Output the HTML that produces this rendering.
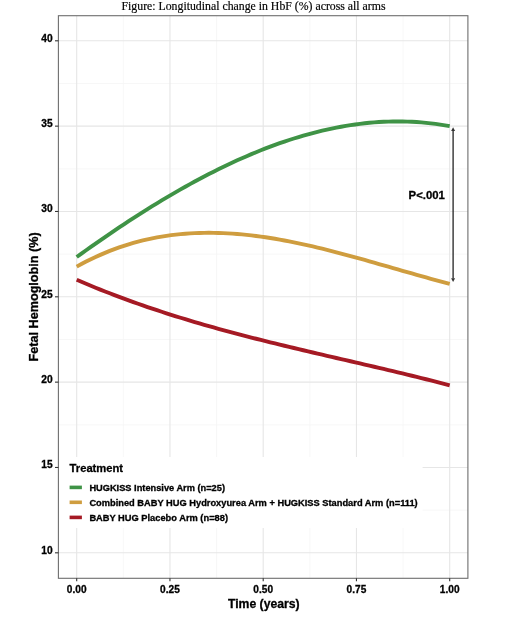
<!DOCTYPE html>
<html><head><meta charset="utf-8"><style>
html,body{margin:0;padding:0;background:#fff;}
body{width:520px;height:626px;overflow:hidden;font-family:"Liberation Sans",sans-serif;}
svg{display:block;will-change:transform;}
text{stroke:#000;stroke-width:0.3px;paint-order:stroke;}
</style></head><body>
<svg width="520" height="626" viewBox="0 0 520 626">
<rect width="520" height="626" fill="#fff"/>
<line x1="123.33" y1="15.7" x2="123.33" y2="578.3" stroke="#f5f5f5" stroke-width="0.8"/>
<line x1="216.57" y1="15.7" x2="216.57" y2="578.3" stroke="#f5f5f5" stroke-width="0.8"/>
<line x1="309.82" y1="15.7" x2="309.82" y2="578.3" stroke="#f5f5f5" stroke-width="0.8"/>
<line x1="403.07" y1="15.7" x2="403.07" y2="578.3" stroke="#f5f5f5" stroke-width="0.8"/>
<line x1="58.4" y1="510.14" x2="467.9" y2="510.14" stroke="#f5f5f5" stroke-width="0.8"/>
<line x1="58.4" y1="424.81" x2="467.9" y2="424.81" stroke="#f5f5f5" stroke-width="0.8"/>
<line x1="58.4" y1="339.47" x2="467.9" y2="339.47" stroke="#f5f5f5" stroke-width="0.8"/>
<line x1="58.4" y1="254.14" x2="467.9" y2="254.14" stroke="#f5f5f5" stroke-width="0.8"/>
<line x1="58.4" y1="168.80" x2="467.9" y2="168.80" stroke="#f5f5f5" stroke-width="0.8"/>
<line x1="58.4" y1="83.47" x2="467.9" y2="83.47" stroke="#f5f5f5" stroke-width="0.8"/>
<line x1="76.70" y1="15.7" x2="76.70" y2="578.3" stroke="#e6e6e6" stroke-width="1.1"/>
<line x1="169.95" y1="15.7" x2="169.95" y2="578.3" stroke="#e6e6e6" stroke-width="1.1"/>
<line x1="263.20" y1="15.7" x2="263.20" y2="578.3" stroke="#e6e6e6" stroke-width="1.1"/>
<line x1="356.45" y1="15.7" x2="356.45" y2="578.3" stroke="#e6e6e6" stroke-width="1.1"/>
<line x1="449.70" y1="15.7" x2="449.70" y2="578.3" stroke="#e6e6e6" stroke-width="1.1"/>
<line x1="58.4" y1="552.81" x2="467.9" y2="552.81" stroke="#e6e6e6" stroke-width="1.1"/>
<line x1="58.4" y1="467.48" x2="467.9" y2="467.48" stroke="#e6e6e6" stroke-width="1.1"/>
<line x1="58.4" y1="382.14" x2="467.9" y2="382.14" stroke="#e6e6e6" stroke-width="1.1"/>
<line x1="58.4" y1="296.81" x2="467.9" y2="296.81" stroke="#e6e6e6" stroke-width="1.1"/>
<line x1="58.4" y1="211.47" x2="467.9" y2="211.47" stroke="#e6e6e6" stroke-width="1.1"/>
<line x1="58.4" y1="126.14" x2="467.9" y2="126.14" stroke="#e6e6e6" stroke-width="1.1"/>
<line x1="58.4" y1="40.80" x2="467.9" y2="40.80" stroke="#e6e6e6" stroke-width="1.1"/>
<path d="M76.70,279.73 L81.42,281.76 L86.14,283.77 L90.86,285.74 L95.59,287.68 L100.31,289.58 L105.03,291.46 L109.75,293.30 L114.47,295.12 L119.19,296.90 L123.92,298.66 L128.64,300.39 L133.36,302.10 L138.08,303.77 L142.80,305.42 L147.52,307.05 L152.24,308.65 L156.97,310.22 L161.69,311.77 L166.41,313.30 L171.13,314.81 L175.85,316.29 L180.57,317.76 L185.29,319.20 L190.02,320.62 L194.74,322.02 L199.46,323.41 L204.18,324.77 L208.90,326.12 L213.62,327.45 L218.35,328.76 L223.07,330.06 L227.79,331.34 L232.51,332.61 L237.23,333.87 L241.95,335.11 L246.67,336.33 L251.40,337.55 L256.12,338.75 L260.84,339.94 L265.56,341.12 L270.28,342.29 L275.00,343.46 L279.73,344.61 L284.45,345.75 L289.17,346.89 L293.89,348.02 L298.61,349.15 L303.33,350.26 L308.05,351.38 L312.78,352.48 L317.50,353.59 L322.22,354.69 L326.94,355.79 L331.66,356.88 L336.38,357.98 L341.11,359.07 L345.83,360.16 L350.55,361.25 L355.27,362.35 L359.99,363.44 L364.71,364.54 L369.43,365.64 L374.16,366.74 L378.88,367.85 L383.60,368.96 L388.32,370.07 L393.04,371.19 L397.76,372.32 L402.48,373.46 L407.21,374.60 L411.93,375.75 L416.65,376.90 L421.37,378.07 L426.09,379.25 L430.81,380.43 L435.54,381.63 L440.26,382.84 L444.98,384.06 L449.70,385.29" fill="none" stroke="#a51a24" stroke-width="3.9" stroke-linecap="butt" stroke-linejoin="round"/>
<path d="M76.70,266.65 L81.42,264.06 L86.14,261.58 L90.86,259.23 L95.59,256.99 L100.31,254.86 L105.03,252.84 L109.75,250.93 L114.47,249.12 L119.19,247.43 L123.92,245.83 L128.64,244.34 L133.36,242.95 L138.08,241.65 L142.80,240.46 L147.52,239.35 L152.24,238.34 L156.97,237.42 L161.69,236.59 L166.41,235.85 L171.13,235.19 L175.85,234.62 L180.57,234.12 L185.29,233.71 L190.02,233.38 L194.74,233.13 L199.46,232.94 L204.18,232.84 L208.90,232.80 L213.62,232.83 L218.35,232.93 L223.07,233.10 L227.79,233.33 L232.51,233.63 L237.23,233.98 L241.95,234.39 L246.67,234.87 L251.40,235.39 L256.12,235.97 L260.84,236.60 L265.56,237.28 L270.28,238.01 L275.00,238.79 L279.73,239.61 L284.45,240.47 L289.17,241.38 L293.89,242.32 L298.61,243.30 L303.33,244.32 L308.05,245.37 L312.78,246.46 L317.50,247.57 L322.22,248.71 L326.94,249.88 L331.66,251.08 L336.38,252.29 L341.11,253.53 L345.83,254.79 L350.55,256.07 L355.27,257.36 L359.99,258.67 L364.71,259.99 L369.43,261.32 L374.16,262.66 L378.88,264.01 L383.60,265.36 L388.32,266.72 L393.04,268.07 L397.76,269.43 L402.48,270.79 L407.21,272.14 L411.93,273.49 L416.65,274.83 L421.37,276.16 L426.09,277.48 L430.81,278.79 L435.54,280.09 L440.26,281.36 L444.98,282.63 L449.70,283.87" fill="none" stroke="#cf9d3f" stroke-width="3.9" stroke-linecap="butt" stroke-linejoin="round"/>
<path d="M76.70,256.98 L81.42,253.59 L86.14,250.23 L90.86,246.89 L95.59,243.58 L100.31,240.30 L105.03,237.05 L109.75,233.82 L114.47,230.62 L119.19,227.46 L123.92,224.32 L128.64,221.22 L133.36,218.15 L138.08,215.11 L142.80,212.11 L147.52,209.14 L152.24,206.21 L156.97,203.31 L161.69,200.45 L166.41,197.63 L171.13,194.84 L175.85,192.10 L180.57,189.40 L185.29,186.73 L190.02,184.11 L194.74,181.53 L199.46,179.00 L204.18,176.50 L208.90,174.06 L213.62,171.65 L218.35,169.30 L223.07,166.99 L227.79,164.73 L232.51,162.51 L237.23,160.35 L241.95,158.23 L246.67,156.17 L251.40,154.16 L256.12,152.20 L260.84,150.29 L265.56,148.44 L270.28,146.64 L275.00,144.90 L279.73,143.21 L284.45,141.58 L289.17,140.01 L293.89,138.49 L298.61,137.04 L303.33,135.64 L308.05,134.31 L312.78,133.03 L317.50,131.82 L322.22,130.67 L326.94,129.59 L331.66,128.56 L336.38,127.61 L341.11,126.72 L345.83,125.90 L350.55,125.14 L355.27,124.45 L359.99,123.83 L364.71,123.28 L369.43,122.80 L374.16,122.40 L378.88,122.06 L383.60,121.80 L388.32,121.61 L393.04,121.49 L397.76,121.45 L402.48,121.49 L407.21,121.60 L411.93,121.79 L416.65,122.06 L421.37,122.40 L426.09,122.83 L430.81,123.33 L435.54,123.92 L440.26,124.59 L444.98,125.34 L449.70,126.17" fill="none" stroke="#3f9346" stroke-width="3.9" stroke-linecap="butt" stroke-linejoin="round"/>
<line x1="453.1" y1="130.5" x2="453.1" y2="278.5" stroke="#222" stroke-width="1.3"/>
<path d="M453.1,127.2 L455.1,131 L451.1,131 Z" fill="#333"/>
<path d="M453.1,282 L455.1,278.2 L451.1,278.2 Z" fill="#333"/>
<text x="408.6" y="198.8" font-family="Liberation Sans" font-weight="bold" font-size="11.3" textLength="36.2" lengthAdjust="spacingAndGlyphs" fill="#000">P&lt;.001</text>
<rect x="59.0" y="457" width="363.6" height="71" fill="#fff"/>
<text x="69.6" y="472.4" font-family="Liberation Sans" font-weight="bold" font-size="11.2" fill="#000">Treatment</text>
<line x1="69.6" y1="487.4" x2="81.9" y2="487.4" stroke="#3f9346" stroke-width="3.6"/>
<text x="89.4" y="490.7" font-family="Liberation Sans" font-weight="bold" font-size="9.2" textLength="135.6" lengthAdjust="spacingAndGlyphs" fill="#000">HUGKISS Intensive Arm (n=25)</text>
<line x1="69.6" y1="502.3" x2="81.9" y2="502.3" stroke="#cf9d3f" stroke-width="3.6"/>
<text x="89.4" y="505.6" font-family="Liberation Sans" font-weight="bold" font-size="9.2" textLength="328.3" lengthAdjust="spacingAndGlyphs" fill="#000">Combined BABY HUG Hydroxyurea Arm + HUGKISS Standard Arm (n=111)</text>
<line x1="69.6" y1="517.4" x2="81.9" y2="517.4" stroke="#a51a24" stroke-width="3.6"/>
<text x="89.4" y="520.7" font-family="Liberation Sans" font-weight="bold" font-size="9.2" textLength="138.6" lengthAdjust="spacingAndGlyphs" fill="#000">BABY HUG Placebo Arm (n=88)</text>
<rect x="58.4" y="15.7" width="409.5" height="562.5999999999999" fill="none" stroke="#6e6e6e" stroke-width="1.1"/>
<line x1="55" y1="552.81" x2="58.4" y2="552.81" stroke="#333" stroke-width="1.1"/>
<text x="52.6" y="553.61" text-anchor="end" font-family="Liberation Sans" font-weight="bold" font-size="10.2" fill="#000">10</text>
<line x1="55" y1="467.48" x2="58.4" y2="467.48" stroke="#333" stroke-width="1.1"/>
<text x="52.6" y="468.28" text-anchor="end" font-family="Liberation Sans" font-weight="bold" font-size="10.2" fill="#000">15</text>
<line x1="55" y1="382.14" x2="58.4" y2="382.14" stroke="#333" stroke-width="1.1"/>
<text x="52.6" y="382.94" text-anchor="end" font-family="Liberation Sans" font-weight="bold" font-size="10.2" fill="#000">20</text>
<line x1="55" y1="296.81" x2="58.4" y2="296.81" stroke="#333" stroke-width="1.1"/>
<text x="52.6" y="297.61" text-anchor="end" font-family="Liberation Sans" font-weight="bold" font-size="10.2" fill="#000">25</text>
<line x1="55" y1="211.47" x2="58.4" y2="211.47" stroke="#333" stroke-width="1.1"/>
<text x="52.6" y="212.27" text-anchor="end" font-family="Liberation Sans" font-weight="bold" font-size="10.2" fill="#000">30</text>
<line x1="55" y1="126.14" x2="58.4" y2="126.14" stroke="#333" stroke-width="1.1"/>
<text x="52.6" y="126.94" text-anchor="end" font-family="Liberation Sans" font-weight="bold" font-size="10.2" fill="#000">35</text>
<line x1="55" y1="40.80" x2="58.4" y2="40.80" stroke="#333" stroke-width="1.1"/>
<text x="52.6" y="41.60" text-anchor="end" font-family="Liberation Sans" font-weight="bold" font-size="10.2" fill="#000">40</text>
<line x1="76.70" y1="578.3" x2="76.70" y2="581.3" stroke="#333" stroke-width="1.1"/>
<text x="76.70" y="593.0" text-anchor="middle" font-family="Liberation Sans" font-weight="bold" font-size="10.1" fill="#000">0.00</text>
<line x1="169.95" y1="578.3" x2="169.95" y2="581.3" stroke="#333" stroke-width="1.1"/>
<text x="169.95" y="593.0" text-anchor="middle" font-family="Liberation Sans" font-weight="bold" font-size="10.1" fill="#000">0.25</text>
<line x1="263.20" y1="578.3" x2="263.20" y2="581.3" stroke="#333" stroke-width="1.1"/>
<text x="263.20" y="593.0" text-anchor="middle" font-family="Liberation Sans" font-weight="bold" font-size="10.1" fill="#000">0.50</text>
<line x1="356.45" y1="578.3" x2="356.45" y2="581.3" stroke="#333" stroke-width="1.1"/>
<text x="356.45" y="593.0" text-anchor="middle" font-family="Liberation Sans" font-weight="bold" font-size="10.1" fill="#000">0.75</text>
<line x1="449.70" y1="578.3" x2="449.70" y2="581.3" stroke="#333" stroke-width="1.1"/>
<text x="449.70" y="593.0" text-anchor="middle" font-family="Liberation Sans" font-weight="bold" font-size="10.1" fill="#000">1.00</text>
<text x="263.8" y="607.9" text-anchor="middle" font-family="Liberation Sans" font-weight="bold" font-size="12.3" textLength="71.6" lengthAdjust="spacingAndGlyphs" fill="#000">Time (years)</text>
<text transform="translate(37.5,296.9) rotate(-90)" text-anchor="middle" font-family="Liberation Sans" font-weight="bold" font-size="12.2" textLength="129.2" lengthAdjust="spacingAndGlyphs" fill="#000">Fetal Hemoglobin (%)</text>
<text x="253.5" y="10" text-anchor="middle" font-family="Liberation Serif" font-size="12" style="stroke-width:0.18px" textLength="264" lengthAdjust="spacingAndGlyphs" fill="#000">Figure: Longitudinal change in HbF (%) across all arms</text>
</svg>
</body></html>
